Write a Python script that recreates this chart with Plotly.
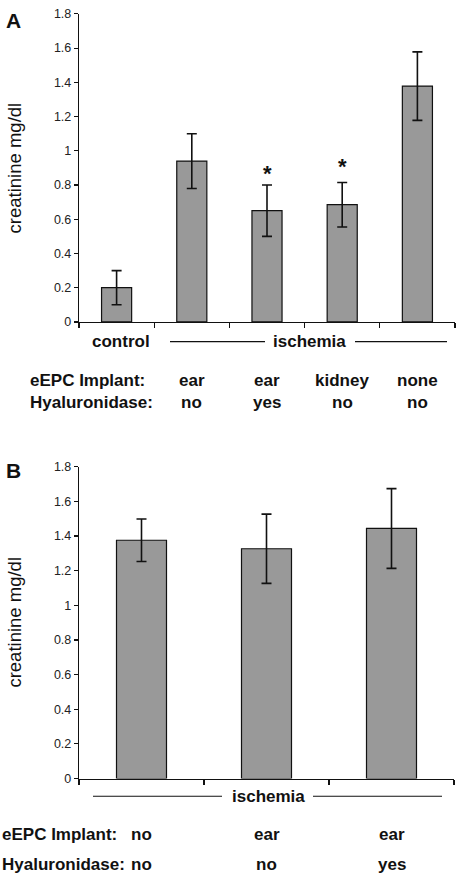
import plotly.graph_objects as go

W, H = 458, 882

# Panel A data
a_categories = ["control", "ischemia ear/no", "ischemia ear/yes", "ischemia kidney/no", "ischemia none/no"]
a_values = [0.20, 0.94, 0.65, 0.685, 1.378]
a_errors = [0.10, 0.16, 0.15, 0.13, 0.20]
a_significant = [False, False, True, True, False]
a_implant = ["", "ear", "ear", "kidney", "none"]
a_hyal = ["", "no", "yes", "no", "no"]

# Panel B data
b_categories = ["ischemia no/no", "ischemia ear/no", "ischemia ear/yes"]
b_values = [1.375, 1.326, 1.443]
b_errors = [0.123, 0.20, 0.23]
b_implant = ["no", "ear", "ear"]
b_hyal = ["no", "no", "yes"]

y_ticks = [0, 0.2, 0.4, 0.6, 0.8, 1.0, 1.2, 1.4, 1.6, 1.8]

FONT = "Liberation Sans, Arial, sans-serif"
BAR_COLOR = "#999999"


def px_x(p):
    return p / W


def px_y(p):
    return 1 - p / H


fig = go.Figure()

for cats, vals, errs, xa, ya in [
    (a_categories, a_values, a_errors, "x", "y"),
    (b_categories, b_values, b_errors, "x2", "y2"),
]:
    fig.add_trace(go.Bar(
        x=cats, y=vals, xaxis=xa, yaxis=ya, width=0.4,
        marker=dict(color=BAR_COLOR, line=dict(color="#111111", width=1.2)),
        error_y=dict(type="data", array=errs, visible=True, color="#111111",
                     thickness=1.6, width=5),
        showlegend=False, hoverinfo="skip",
    ))

axis_common_x = dict(
    type="category", showline=True, linecolor="#111111", linewidth=1.2,
    ticks="outside", ticklen=5, tickcolor="#111111", tickwidth=1.2,
    tickson="boundaries", showticklabels=False, showgrid=False, zeroline=False,
)
axis_common_y = dict(
    range=[0, 1.8], tickvals=y_ticks, ticktext=[f"{v:g}" for v in y_ticks],
    showline=True, linecolor="#111111", linewidth=1.2,
    ticks="outside", ticklen=4, tickcolor="#111111", tickwidth=1.2,
    showgrid=False, zeroline=False,
    tickfont=dict(family=FONT, size=12.5, color="#222222"),
)

fig.update_layout(
    width=W, height=H, autosize=False,
    margin=dict(l=0, r=0, t=0, b=0),
    paper_bgcolor="white", plot_bgcolor="white",
    xaxis=dict(**axis_common_x, anchor="y", domain=[px_x(79), px_x(455)]),
    yaxis=dict(**axis_common_y, anchor="x", domain=[px_y(320), px_y(7)]),
    xaxis2=dict(**axis_common_x, anchor="y2", domain=[px_x(79), px_x(454)]),
    yaxis2=dict(**axis_common_y, anchor="x2", domain=[px_y(784), px_y(467)]),
)

ann = []
bold = dict(family=FONT, size=17, color="#111111")

# Panel letters
for letter, yc in (("A", 14), ("B", 471)):
    ann.append(dict(text=f"<b>{letter}</b>", x=px_x(4), y=px_y(yc), xref="paper", yref="paper",
                    xanchor="left", yanchor="middle", showarrow=False,
                    font=dict(family=FONT, size=21, color="#111111")))

# Y-axis titles
for yc in (163.5, 625):
    ann.append(dict(text="creatinine mg/dl", x=px_x(14.5), y=px_y(yc), xref="paper", yref="paper",
                    xanchor="center", yanchor="middle", textangle=-90, showarrow=False,
                    font=dict(family=FONT, size=18.5, color="#111111")))

# Significance asterisks
for i, (c, v, e, s) in enumerate(zip(a_categories, a_values, a_errors, a_significant)):
    if s:
        ann.append(dict(text="<b>*</b>", x=c, y=v + e, xref="x", yref="y",
                        xanchor="center", yanchor="middle", yshift=12 if i == 2 else 16,
                        showarrow=False, font=dict(family=FONT, size=22, color="#111111")))

# Group labels
ann.append(dict(text="<b>control</b>", x=px_x(121), y=px_y(340), xref="paper", yref="paper",
                xanchor="center", yanchor="middle", showarrow=False, font=bold))
ann.append(dict(text="<b>ischemia</b>", x=px_x(309), y=px_y(340), xref="paper", yref="paper",
                xanchor="center", yanchor="middle", showarrow=False, font=bold))
ann.append(dict(text="<b>ischemia</b>", x=px_x(268), y=px_y(802), xref="paper", yref="paper",
                xanchor="center", yanchor="middle", showarrow=False, font=bold))

# Row labels
for label, xl, yc in [("eEPC Implant:", 28, 380), ("Hyaluronidase:", 28, 402),
                      ("eEPC Implant:", 0, 841), ("Hyaluronidase:", 0, 871)]:
    ann.append(dict(text=f"<b>{label}</b>", x=px_x(xl), y=px_y(yc), xref="paper", yref="paper",
                    xanchor="left", yanchor="middle", showarrow=False, font=bold))

for c, t in zip(a_categories, a_implant):
    if t:
        ann.append(dict(text=f"<b>{t}</b>", x=c, y=px_y(380), xref="x", yref="paper",
                        xanchor="center", yanchor="middle", showarrow=False, font=bold))
for c, t in zip(a_categories, a_hyal):
    if t:
        ann.append(dict(text=f"<b>{t}</b>", x=c, y=px_y(402), xref="x", yref="paper",
                        xanchor="center", yanchor="middle", showarrow=False, font=bold))
for c, t in zip(b_categories, b_implant):
    ann.append(dict(text=f"<b>{t}</b>", x=c, y=px_y(841), xref="x2", yref="paper",
                    xanchor="center", yanchor="middle", showarrow=False, font=bold))
for c, t in zip(b_categories, b_hyal):
    ann.append(dict(text=f"<b>{t}</b>", x=c, y=px_y(871), xref="x2", yref="paper",
                    xanchor="center", yanchor="middle", showarrow=False, font=bold))

fig.update_layout(annotations=ann)

# Group bracket lines
shapes = []
for x0, x1, yc in [(170, 265, 340), (355, 447, 340), (93, 222, 802), (313, 442, 802)]:
    shapes.append(dict(type="line", xref="paper", yref="paper",
                       x0=px_x(x0), x1=px_x(x1), y0=px_y(yc), y1=px_y(yc),
                       line=dict(color="#111111", width=1.2)))
fig.update_layout(shapes=shapes)

fig.write_html(
    "out.html",
    config={"displayModeBar": False, "responsive": False, "staticPlot": True},
    post_script="document.body.style.margin='0';document.body.style.overflow='hidden';",
)
